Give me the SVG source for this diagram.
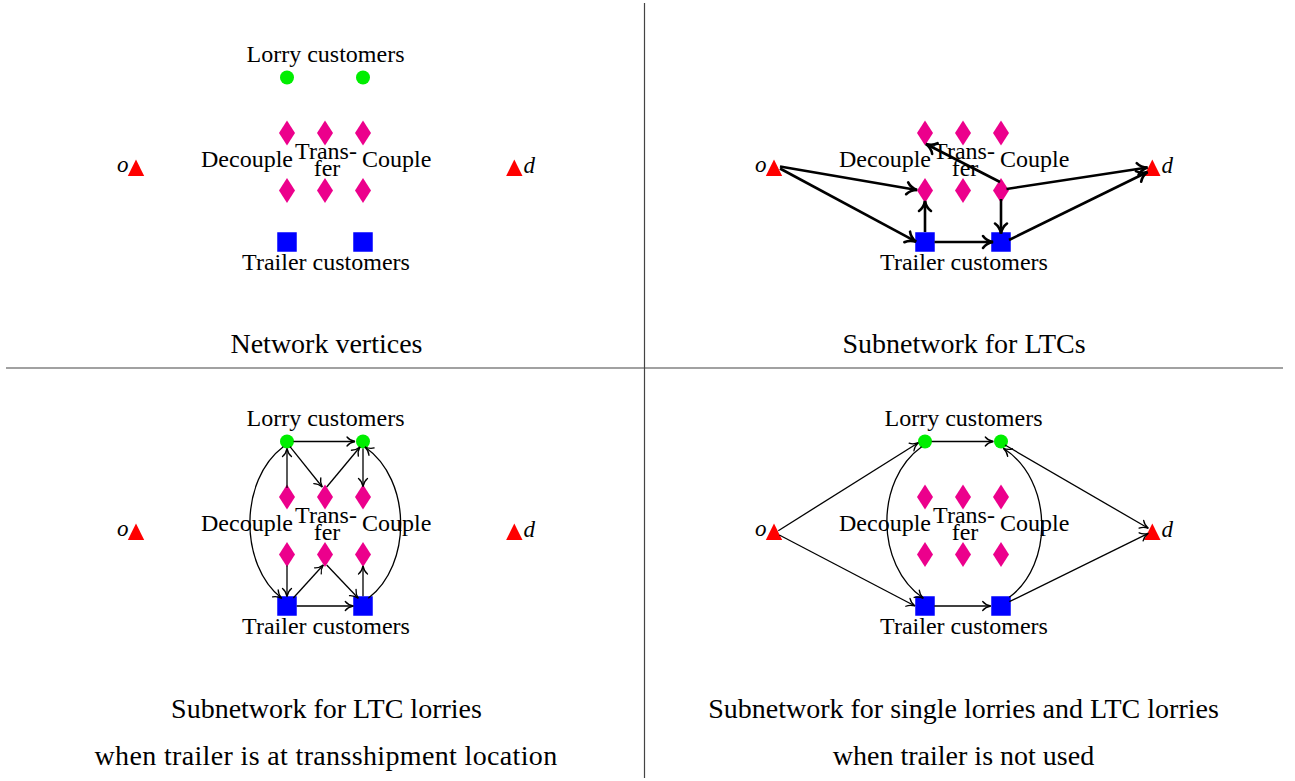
<svg xmlns="http://www.w3.org/2000/svg" xmlns:xlink="http://www.w3.org/1999/xlink" width="1295" height="781" viewBox="0 0 1295 781" font-family="'Liberation Serif', 'Times New Roman', serif">
<style>
text{font-family:'Liberation Serif','Times New Roman',serif;fill:#000}
.lbl{font-size:24px}
.cap{font-size:28px;text-anchor:middle}
.it{font-style:italic;font-size:23px}
.thin{fill:none;stroke:#000;stroke-width:1.3;marker-end:url(#ahThin)}
.thick{fill:none;stroke:#000;stroke-width:2.6;marker-end:url(#ahThick)}
.lorry{fill:#00ee00}
.dia{fill:#ec008c}
.trl{fill:#0000ff}
.tri{fill:#ff0000}
.rule{stroke:#444;stroke-width:1.2}
</style>
<defs>
<marker id="ahThin" markerUnits="userSpaceOnUse" viewBox="-12 -8 14 16" refX="0" refY="0" markerWidth="14" markerHeight="16" orient="auto" overflow="visible">
<path d="M-8,-4.5 C-6,-2 -2.5,-0.5 0,0 C-2.5,0.5 -6,2 -8,4.5" fill="none" stroke="#000" stroke-width="1.3" stroke-linecap="round"/>
</marker>
<marker id="ahThick" markerUnits="userSpaceOnUse" viewBox="-14 -9 16 18" refX="0" refY="0" markerWidth="16" markerHeight="18" orient="auto" overflow="visible">
<path d="M-10,-6 C-7.5,-2.5 -3,-0.6 0,0 C-3,0.6 -7.5,2.5 -10,6" fill="none" stroke="#000" stroke-width="2.6" stroke-linecap="round"/>
</marker>
<circle id="circ" r="7" class="lorry"/>
<path id="dmd" class="dia" d="M0,-12.5 L8,0 L0,12.5 L-8,0Z"/>
<rect id="sq" class="trl" x="-9.75" y="-9.75" width="19.5" height="19.5"/>
<path id="trig" class="tri" d="M0,-16.5 L8.2,0 L-8.2,0Z"/>
</defs>
<rect width="1295" height="781" fill="#fff"/>
<g id="rules">
<line class="rule" x1="644.5" y1="3" x2="644.5" y2="778"/>
<line class="rule" x1="6" y1="368" x2="1283" y2="368"/>
</g>

<!-- Panel 1 -->
<g id="panel1">
<g id="p1-lorry"><text class="lbl" x="325.5" y="62" text-anchor="middle">Lorry customers</text><use xlink:href="#circ" x="287" y="77.5"/><use xlink:href="#circ" x="363" y="77.5"/></g>
<g id="p1-decouple"><use xlink:href="#dmd" x="287" y="133"/><use xlink:href="#dmd" x="287" y="190.5"/><text class="lbl" x="293" y="167" text-anchor="end">Decouple</text></g>
<g id="p1-transfer"><use xlink:href="#dmd" x="325" y="133"/><use xlink:href="#dmd" x="325" y="190.5"/><text class="lbl" x="326" y="159" text-anchor="middle">Trans-</text><text class="lbl" x="327" y="176" text-anchor="middle">fer</text></g>
<g id="p1-couple"><use xlink:href="#dmd" x="363" y="133"/><use xlink:href="#dmd" x="363" y="190.5"/><text class="lbl" x="362" y="167">Couple</text></g>
<g id="p1-trailer"><use xlink:href="#sq" x="287" y="242"/><use xlink:href="#sq" x="363" y="242"/><text class="lbl" x="326" y="270" text-anchor="middle">Trailer customers</text></g>
<g id="p1-o"><use xlink:href="#trig" x="136" y="176"/><text class="it" x="117" y="172">o</text></g>
<g id="p1-d"><use xlink:href="#trig" x="514.3" y="176"/><text class="it" x="523.5" y="173">d</text></g>
<text class="cap" x="326.5" y="353">Network vertices</text>
</g>

<!-- Panel 2 -->
<g id="panel2" transform="translate(638,0)">
<g id="p2-decouple"><use xlink:href="#dmd" x="287" y="133"/><use xlink:href="#dmd" x="287" y="190.5"/><text class="lbl" x="293" y="167" text-anchor="end">Decouple</text></g>
<g id="p2-transfer"><use xlink:href="#dmd" x="325" y="133"/><use xlink:href="#dmd" x="325" y="190.5"/><text class="lbl" x="326" y="159" text-anchor="middle">Trans-</text><text class="lbl" x="327" y="176" text-anchor="middle">fer</text></g>
<g id="p2-couple"><use xlink:href="#dmd" x="363" y="133"/><use xlink:href="#dmd" x="363" y="190.5"/><text class="lbl" x="362" y="167">Couple</text></g>
<g id="p2-trailer"><use xlink:href="#sq" x="287" y="242"/><use xlink:href="#sq" x="363" y="242"/><text class="lbl" x="326" y="270" text-anchor="middle">Trailer customers</text></g>
<g id="p2-o"><use xlink:href="#trig" x="136" y="176"/><text class="it" x="117" y="172">o</text></g>
<g id="p2-d"><use xlink:href="#trig" x="514.3" y="176"/><text class="it" x="523.5" y="173">d</text></g>
<g id="p2-edges">
<path class="thick" d="M142,166.5 L279,190"/>
<path class="thick" d="M142,168.5 L278,241.7"/>
<path class="thick" d="M296.5,242 L355,242"/>
<path class="thick" d="M287,232 L287,201"/>
<path class="thick" d="M362,182 L288,144"/>
<path class="thick" d="M363,199 L363,233.5"/>
<path class="thick" d="M368.5,189 L509.5,167.5"/>
<path class="thick" d="M371,240 L509.5,172"/>
</g>
<text class="cap" x="326" y="353">Subnetwork for LTCs</text>
</g>

<!-- Panel 3 -->
<g id="panel3" transform="translate(0,364)">
<g id="p3-lorry"><text class="lbl" x="325.5" y="62" text-anchor="middle">Lorry customers</text><use xlink:href="#circ" x="287" y="77.5"/><use xlink:href="#circ" x="363" y="77.5"/></g>
<g id="p3-decouple"><use xlink:href="#dmd" x="287" y="133"/><use xlink:href="#dmd" x="287" y="190.5"/><text class="lbl" x="293" y="167" text-anchor="end">Decouple</text></g>
<g id="p3-transfer"><use xlink:href="#dmd" x="325" y="133"/><use xlink:href="#dmd" x="325" y="190.5"/><text class="lbl" x="326" y="159" text-anchor="middle">Trans-</text><text class="lbl" x="327" y="176" text-anchor="middle">fer</text></g>
<g id="p3-couple"><use xlink:href="#dmd" x="363" y="133"/><use xlink:href="#dmd" x="363" y="190.5"/><text class="lbl" x="362" y="167">Couple</text></g>
<g id="p3-trailer"><use xlink:href="#sq" x="287" y="242"/><use xlink:href="#sq" x="363" y="242"/><text class="lbl" x="326" y="270" text-anchor="middle">Trailer customers</text></g>
<g id="p3-o"><use xlink:href="#trig" x="136" y="176"/><text class="it" x="117" y="172">o</text></g>
<g id="p3-d"><use xlink:href="#trig" x="514.3" y="176"/><text class="it" x="523.5" y="173">d</text></g>
<g id="p3-edges">
<path class="thin" d="M293.5,77.5 L355,77.5"/>
<path class="thin" d="M287,124 L287,84.5"/>
<path class="thin" d="M290,82.7 L322.3,123"/>
<path class="thin" d="M326.7,123 L360,83"/>
<path class="thin" d="M363,84.5 L363,122.5"/>
<path class="thin" d="M283.3,82.7 C239,116 239,201 281.7,234.3"/>
<path class="thin" d="M368.3,234.3 C412,201 412,116 365,83"/>
<path class="thin" d="M287,201.5 L287,232.5"/>
<path class="thin" d="M293.3,234 L323.3,201"/>
<path class="thin" d="M326.7,201 L358.3,234.3"/>
<path class="thin" d="M363,232.3 L363,202"/>
<path class="thin" d="M296.7,242 L353.3,242"/>
</g>
<text class="cap" x="326.5" y="354">Subnetwork for LTC lorries</text>
<text class="cap" x="326" y="401" letter-spacing="0.35">when trailer is at transshipment location</text>
</g>

<!-- Panel 4 -->
<g id="panel4" transform="translate(638,364)">
<g id="p4-lorry"><text class="lbl" x="325.5" y="62" text-anchor="middle">Lorry customers</text><use xlink:href="#circ" x="287" y="77.5"/><use xlink:href="#circ" x="363" y="77.5"/></g>
<g id="p4-decouple"><use xlink:href="#dmd" x="287" y="133"/><use xlink:href="#dmd" x="287" y="190.5"/><text class="lbl" x="293" y="167" text-anchor="end">Decouple</text></g>
<g id="p4-transfer"><use xlink:href="#dmd" x="325" y="133"/><use xlink:href="#dmd" x="325" y="190.5"/><text class="lbl" x="326" y="159" text-anchor="middle">Trans-</text><text class="lbl" x="327" y="176" text-anchor="middle">fer</text></g>
<g id="p4-couple"><use xlink:href="#dmd" x="363" y="133"/><use xlink:href="#dmd" x="363" y="190.5"/><text class="lbl" x="362" y="167">Couple</text></g>
<g id="p4-trailer"><use xlink:href="#sq" x="287" y="242"/><use xlink:href="#sq" x="363" y="242"/><text class="lbl" x="326" y="270" text-anchor="middle">Trailer customers</text></g>
<g id="p4-o"><use xlink:href="#trig" x="136" y="176"/><text class="it" x="117" y="172">o</text></g>
<g id="p4-d"><use xlink:href="#trig" x="514.3" y="176"/><text class="it" x="523.5" y="173">d</text></g>
<g id="p4-edges">
<path class="thin" d="M140.3,166.7 L280.3,78.7"/>
<path class="thin" d="M141.3,171 L277,242"/>
<path class="thin" d="M293.7,77.5 L355.3,77.5"/>
<path class="thin" d="M296.3,242 L352.7,242"/>
<path class="thin" d="M283.7,82.7 C237,116 237,201 285.3,234.3"/>
<path class="thin" d="M371.3,233.3 C415.5,201 415.5,116 365.3,84.3"/>
<path class="thin" d="M367,81 L510.3,164.3"/>
<path class="thin" d="M371.3,237.7 L510.3,169.3"/>
</g>
<text class="cap" x="325.5" y="354">Subnetwork for single lorries and LTC lorries</text>
<text class="cap" x="325.5" y="401">when trailer is not used</text>
</g>
</svg>
